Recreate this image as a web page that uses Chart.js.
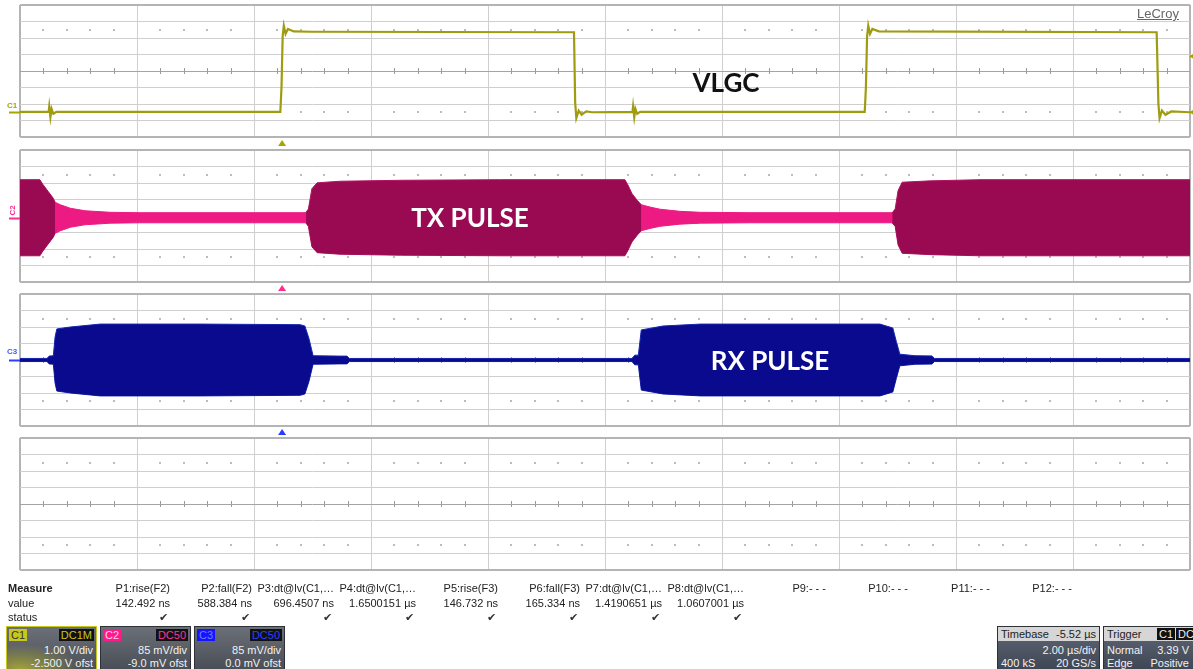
<!DOCTYPE html>
<html>
<head>
<meta charset="utf-8">
<script src="https://cdn.jsdelivr.net/npm/chart.js@4.4.1/dist/chart.umd.min.js"></script>
<style>
  body { margin: 0; width: 1193px; height: 669px; overflow: hidden; position: relative; background: #fff;
         font-family: "Liberation Sans", Arial, sans-serif; }
  canvas { position: absolute; left: 0; }
  .anno { position: absolute; font-family: Lato, "Open Sans", sans-serif; font-weight: 700; font-size: 26px;
          transform: translate(-50%, -50%); white-space: nowrap; }
  .tagc { position: absolute; font-size: 8px; font-weight: bold; }
  .mcol { position: absolute; width: 90px; text-align: right; font-size: 11px; line-height: 14px; color: #222; white-space: nowrap; }
  .mrow { position: absolute; left: 8px; font-size: 11px; line-height: 14px; color: #222; }
  .box { position: absolute; top: 626px; height: 44px; color: #f2f2f2; font-size: 11px; border: 1px solid #2e3138;
         box-sizing: border-box; overflow: hidden; }
  .box .tag { position: absolute; top: 2px; padding: 0 2px; line-height: 12px; font-size: 11px; }
  .box .ln { position: absolute; left: 3px; right: 3px; line-height: 13px; white-space: nowrap; }
  .box .ln span { float: right; }
  .box .hd { position: absolute; left: 0; right: 0; top: 0; height: 14px; background: #d6d6d6; color: #222; line-height: 14px; padding: 0 3px; }
</style>
</head>
<body>
<canvas id="ch1" width="1193" height="150" style="top:1px"></canvas>
<canvas id="ch2" width="1193" height="150" style="top:146px"></canvas>
<canvas id="ch3" width="1193" height="150" style="top:290px"></canvas>
<canvas id="ch4" width="1193" height="150" style="top:434px"></canvas>

<div style="position:absolute;left:1137px;top:6px;font-size:13px;color:#666;text-decoration:underline;">LeCroy</div>
<div class="anno" style="left:726px;top:82px;color:#111;">VLGC</div>
<div class="anno" style="left:470px;top:217px;color:#fff;">TX PULSE</div>
<div class="anno" style="left:770px;top:360px;color:#fff;">RX PULSE</div>
<div class="tagc" style="left:7px;top:101px;color:#a8a400;">C1</div>
<div class="tagc" style="left:7px;top:206px;color:#ff2d91;transform:rotate(-90deg);">C2</div>
<div class="tagc" style="left:7px;top:347px;color:#3d5cff;">C3</div>

<div id="measure"></div>
<div id="boxes"></div>

<script>
// time axis, µs relative to trigger (2 µs/div, 10 div)
const timeRange = [-4.48, 15.52];
const triggerTime = 0;

// C1: VLGC gate, volts
const c1Time  = [-4.48, -3.99, -3.98, -3.96, -3.94, -3.91, -3.86, -0.03, -0.01, 0.01, 0.03, 0.06, 0.10, 0.20, 0.50,
                 4.99, 5.01, 5.03, 5.07, 5.12, 5.20, 5.30, 5.99, 6.00, 6.02, 6.04, 6.07, 6.12,
                 9.96, 9.98, 10.00, 10.02, 10.05, 10.09, 10.20, 14.95, 14.98, 15.00, 15.04, 15.10, 15.20, 15.52];
const c1Volts = [0.02, 0.02, 0.35, -0.30, 0.20, -0.10, 0.02, 0.02, 1.50, 4.60, 5.25, 4.75, 5.05, 4.90, 4.88,
                 4.85, 0.60, -0.35, 0.10, -0.15, 0.05, 0.00, 0.02, 0.35, -0.30, 0.20, -0.10, 0.02,
                 0.02, 1.50, 4.60, 5.25, 4.75, 5.05, 4.90, 4.85, 0.50, -0.35, 0.10, -0.15, 0.05, 0.00];

// C2: TX pulse envelope, mV (peak)
const txBurst1Time = [-4.48, -4.14, -4.09, -4.00, -3.91, -3.88];
const txBurst1Amp  = [196, 196, 172, 136, 100, 80];
const txBurst2Time = [0.41, 0.45, 0.51, 0.60, 0.99, 2.02, 3.73, 5.86, 5.91, 5.98, 6.07, 6.14];
const txBurst2Amp  = [28, 45, 150, 180, 188, 193, 196, 196, 170, 125, 90, 67];
const txBurst3Time = [10.43, 10.48, 10.53, 10.60, 11.08, 11.93, 15.52];
const txBurst3Amp  = [26, 45, 140, 183, 190, 196, 196];
const txTailTime = [-4.48, -3.88, -3.79, -3.62, -3.37, -2.94, -2.43, 0.41, 0.45, 6.14, 6.29, 6.46, 6.80, 7.15, 8.00, 10.43, 10.48, 15.52];
const txTailAmp  = [80, 80, 67, 49, 36, 28, 26, 26, 40, 67, 55, 44, 33, 28, 26, 26, 40, 40];

// C3: RX pulse envelope, mV (peak)
const rxTime = [-4.48, -4.02, -3.98, -3.91, -3.88, -3.85, -3.62, -3.11, -1.40, 0.31, 0.39, 0.46, 0.53, 0.99, 1.11, 1.15,
                5.98, 6.03, 6.09, 6.14, 6.51, 7.15, 10.22, 10.44, 10.50, 10.56, 10.82, 11.11, 11.15, 15.52];
const rxAmp  = [8, 8, 20, 22, 120, 160, 170, 185, 185, 182, 175, 110, 22, 20, 20, 8,
                8, 25, 25, 155, 175, 185, 185, 165, 95, 30, 22, 21, 8, 8];

// channel settings
const chanNames  = ['C1', 'C2', 'C3'];
const chanCoupl  = ['DC1M', 'DC50', 'DC50'];
const chanScale  = ['1.00 V/div', '85 mV/div', '85 mV/div'];
const chanOfst   = ['-2.500 V ofst', '-9.0 mV ofst', '0.0 mV ofst'];
const chanVdiv   = [1, 85, 85, 1];
const chanOffset = [-2.5, -9, 0, 0];
const trigLevel = 3.39;

const measureNames  = ['P1:rise(F2)', 'P2:fall(F2)', 'P3:dt@lv(C1,…', 'P4:dt@lv(C1,…', 'P5:rise(F3)', 'P6:fall(F3)',
                       'P7:dt@lv(C1,…', 'P8:dt@lv(C1,…', 'P9:- - -', 'P10:- - -', 'P11:- - -', 'P12:- - -'];
const measureValues = ['142.492 ns', '588.384 ns', '696.4507 ns', '1.6500151 µs', '146.732 ns', '165.334 ns',
                       '1.4190651 µs', '1.0607001 µs', '', '', '', ''];

function pts(t, v, sign = 1) {
  return t.map((x, i) => ({ x, y: sign * v[i] }));
}

const scopeDeco = {
  id: 'scopeDeco',
  beforeDatasetsDraw(chart, args, o) {
    const { ctx, scales: { x, y } } = chart;
    const yc = Math.round(y.getPixelForValue(o.center));
    const yu = Math.round(y.getPixelForValue(o.center + 2.5 * o.vdiv));
    const yd = Math.round(y.getPixelForValue(o.center - 2.5 * o.vdiv));
    ctx.save();
    for (let k = 1; k < 50; k++) {
      if (k % 5 === 0) continue;
      const px = Math.round(x.getPixelForValue(timeRange[0] + k * 0.4));
      ctx.fillStyle = '#bcbcbc';
      ctx.fillRect(px - 1, yu - 1, 2, 2);
      ctx.fillRect(px - 1, yd - 1, 2, 2);
      ctx.fillStyle = '#9a9a9a';
      ctx.fillRect(px, yc - 3, 1, 6);
    }
    ctx.restore();
  },
  afterDraw(chart, args, o) {
    if (!o.color) return;
    const { ctx, chartArea: a, scales: { x, y } } = chart;
    ctx.save();
    const gy = Math.round(y.getPixelForValue(0)) + 0.5;
    ctx.strokeStyle = o.color;
    ctx.lineWidth = 2;
    ctx.beginPath(); ctx.moveTo(9, gy); ctx.lineTo(a.left, gy); ctx.stroke();
    const tx = x.getPixelForValue(triggerTime);
    ctx.fillStyle = o.color;
    ctx.beginPath();
    ctx.moveTo(tx, a.bottom + 3); ctx.lineTo(tx - 4, a.bottom + 9); ctx.lineTo(tx + 4, a.bottom + 9);
    ctx.closePath(); ctx.fill();
    (o.rightLevels || []).forEach(v => {
      const ly = y.getPixelForValue(v);
      ctx.beginPath();
      ctx.moveTo(a.right - 1, ly); ctx.lineTo(a.right + 6, ly - 4); ctx.lineTo(a.right + 6, ly + 4);
      ctx.closePath(); ctx.fill();
    });
    ctx.restore();
  }
};

function makeScope(id, ch, datasets, deco) {
  const vdiv = chanVdiv[ch];
  const ymin = -4 * vdiv - chanOffset[ch];
  const ymax = 4 * vdiv - chanOffset[ch];
  return new Chart(document.getElementById(id), {
    type: 'line',
    data: { datasets },
    plugins: [scopeDeco],
    options: {
      responsive: false,
      animation: false,
      devicePixelRatio: 1,
      layout: { padding: { left: 20, right: 3, top: 4, bottom: 14 } },
      elements: { point: { radius: 0 }, line: { tension: 0 } },
      plugins: {
        legend: { display: false },
        tooltip: { enabled: false },
        scopeDeco: Object.assign({ center: (ymin + ymax) / 2, vdiv }, deco)
      },
      scales: {
        x: {
          type: 'linear', min: timeRange[0], max: timeRange[1],
          afterBuildTicks: s => { s.ticks = Array.from({ length: 11 }, (_, i) => ({ value: timeRange[0] + i * 2 })); },
          afterFit: s => { s.height = 0; },
          ticks: { display: false },
          border: { display: false },
          grid: { drawTicks: false, color: c => (c.index === 0 || c.index === 10) ? '#b4b4b4' : '#cfcfcf',
                  lineWidth: c => (c.index === 0 || c.index === 10) ? 2 : 1 }
        },
        y: {
          min: ymin, max: ymax,
          afterBuildTicks: s => { s.ticks = Array.from({ length: 9 }, (_, i) => ({ value: ymin + i * vdiv })); },
          afterFit: s => { s.width = 0; },
          ticks: { display: false },
          border: { display: false },
          grid: { drawTicks: false,
                  color: c => (c.index === 0 || c.index === 8) ? '#b4b4b4' : (c.index === 4 ? '#a4a4a4' : '#cfcfcf'),
                  lineWidth: c => (c.index === 0 || c.index === 8) ? 2 : 1 }
        }
      }
    }
  });
}

const txDark = '#9a0a52', txEdge = '#b2125f', txPink = '#ee1a83';
function burstPair(t, a, fill, edge) {
  return [
    { data: pts(t, a), borderColor: edge, borderWidth: 1, backgroundColor: fill, fill: '+1' },
    { data: pts(t, a, -1), borderColor: edge, borderWidth: 1, fill: false }
  ];
}

makeScope('ch1', 0, [
  { data: pts(c1Time, c1Volts), borderColor: '#a09c10', borderWidth: 2.2, fill: false }
], { color: '#a8a400', rightLevels: [trigLevel, 0] });

makeScope('ch2', 1, [
  ...burstPair(txBurst1Time, txBurst1Amp, txDark, txEdge),
  ...burstPair(txBurst2Time, txBurst2Amp, txDark, txEdge),
  ...burstPair(txBurst3Time, txBurst3Amp, txDark, txEdge),
  ...burstPair(txTailTime, txTailAmp, txPink, txPink)
], { color: '#ff2d91' });

makeScope('ch3', 2, [
  ...burstPair(rxTime, rxAmp, '#0a0a8e', '#1426b0')
], { color: '#2a3cff' });

makeScope('ch4', 3, [], {});

// measurement table
const measure = document.getElementById('measure');
let html = '<div class="mrow" style="top:581px;font-weight:bold;">Measure</div>' +
           '<div class="mrow" style="top:596px;">value</div>' +
           '<div class="mrow" style="top:610px;">status</div>';
measureNames.forEach((name, i) => {
  const left = 170 + 82 * i - 90;
  html += `<div class="mcol" style="left:${left}px;top:581px;">${name}</div>`;
  if (measureValues[i]) {
    html += `<div class="mcol" style="left:${left}px;top:596px;">${measureValues[i]}</div>`;
    html += `<div class="mcol" style="left:${left}px;top:610px;padding-right:0;"><span style="margin-right:2px;color:#333">✔</span></div>`;
  }
});
measure.innerHTML = html;

// channel / timebase / trigger boxes
const tagBg   = ['#c9c61c', '#ff1a8c', '#1414ff'];
const tagText = ['#333', '#ffd0e6', '#6a80ff'];
const cplText = ['#c9c61c', '#ff3399', '#2a40ff'];
const boxLeft = [6, 100, 194];
let bx = '';
chanNames.forEach((n, i) => {
  const bg = i === 0
    ? 'radial-gradient(ellipse 90% 80% at 15% 100%, #a3a23a 0%, rgba(110,112,80,0) 75%), linear-gradient(#6b6f77, #4c5058)'
    : 'linear-gradient(#6b6f77, #4a4e56)';
  const border = i === 0 ? '#c9c61c' : '#2e3138';
  bx += `<div class="box" style="left:${boxLeft[i]}px;width:91px;background:${bg};border-color:${border}">
    <span class="tag" style="left:2px;background:${tagBg[i]};color:${tagText[i]}">${n}</span>
    <span class="tag" style="right:2px;background:#111;color:${cplText[i]}">${chanCoupl[i]}</span>
    <div class="ln" style="top:17px;text-align:right">${chanScale[i]}</div>
    <div class="ln" style="top:30px;text-align:right">${chanOfst[i]}</div>
  </div>`;
});
bx += `<div class="box" style="left:997px;width:103px;background:linear-gradient(#606776,#3f4654)">
  <div class="hd">Timebase<span style="float:right">-5.52 µs</span></div>
  <div class="ln" style="top:17px;text-align:right">2.00 µs/div</div>
  <div class="ln" style="top:30px">400 kS<span>20 GS/s</span></div>
</div>
<div class="box" style="left:1103px;width:95px;background:linear-gradient(#606776,#3f4654)">
  <div class="hd">Trigger<span style="position:absolute;left:53px;top:1px;background:#111;color:#eee;line-height:12px;padding:0 2px">C1</span><span style="position:absolute;left:72px;top:1px;background:#111;color:#eee;line-height:12px;padding:0 2px">DC</span></div>
  <div class="ln" style="top:17px;right:8px">Normal<span>3.39 V</span></div>
  <div class="ln" style="top:30px;right:8px">Edge<span>Positive</span></div>
</div>`;
document.getElementById('boxes').innerHTML = bx;
</script>
</body>
</html>
